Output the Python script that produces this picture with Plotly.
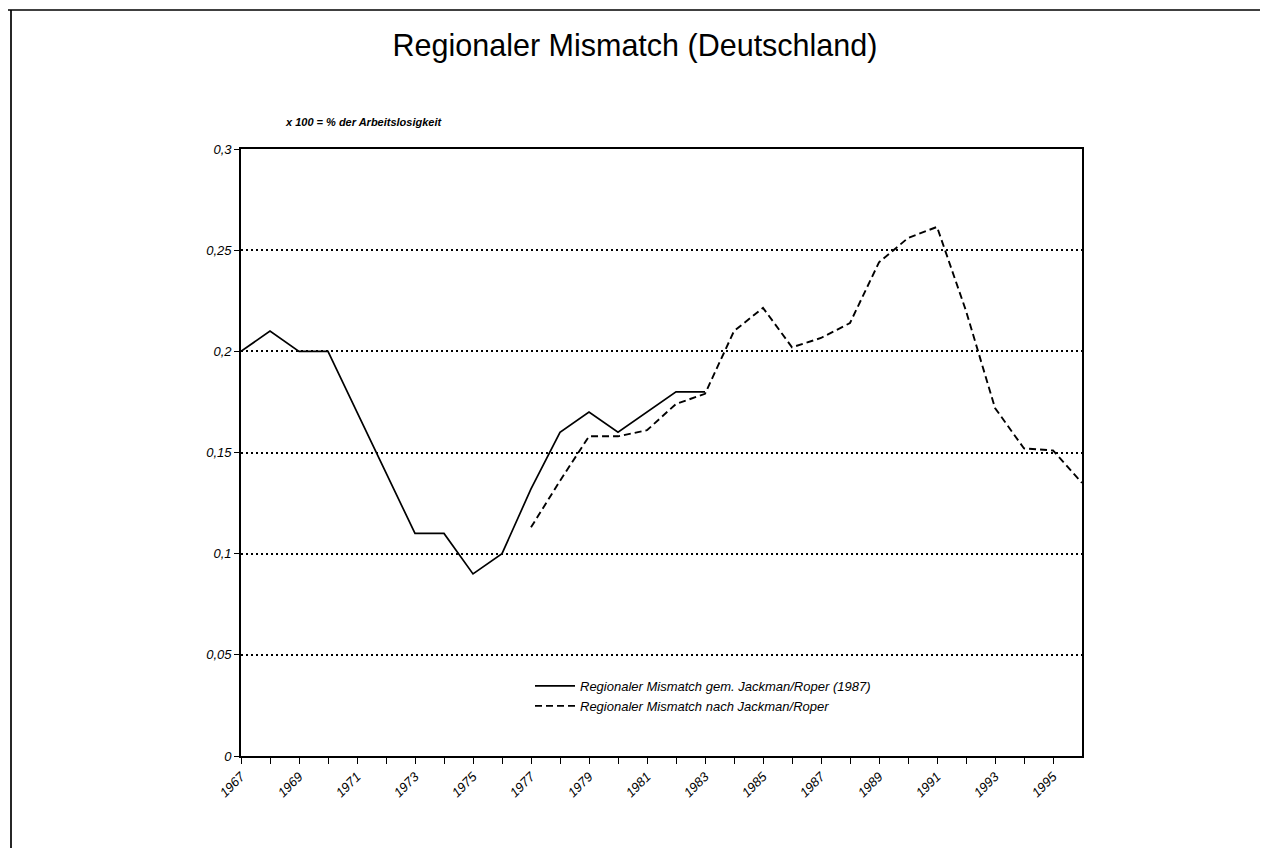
import plotly.graph_objects as go

# ---- data ----
years = list(range(1967, 1997))
solid_vals = [0.200, 0.210, 0.200, 0.200, 0.170, 0.140, 0.110, 0.110, 0.090, 0.100,
              0.132, 0.160, 0.170, 0.160, 0.170, 0.180, 0.180,
              None, None, None, None, None, None, None, None, None, None, None, None, None]
dashed_vals = [None, None, None, None, None, None, None, None, None, None,
               0.113, 0.136, 0.158, 0.158, 0.161, 0.174, 0.179, 0.210, 0.2215, 0.202,
               0.2066, 0.214, 0.244, 0.256, 0.2615, 0.220, 0.172, 0.152, 0.151, 0.135]
name_solid = "Regionaler Mismatch gem. Jackman/Roper (1987)"
name_dashed = "Regionaler Mismatch nach Jackman/Roper"
title_text = "Regionaler Mismatch (Deutschland)"
note_text = "x 100 = % der Arbeitslosigkeit"
y_tickvals = [0, 0.05, 0.1, 0.15, 0.2, 0.25, 0.3]
y_ticktext = ["0", "0,05", "0,1", "0,15", "0,2", "0,25", "0,3"]
x_tickvals = list(range(1967, 1996))
x_ticktext = [str(y) if (y - 1967) % 2 == 0 else "" for y in x_tickvals]

FONT = "Liberation Sans, Arial, sans-serif"
OFF = 8                      # page body margin
W, H = 1268 - OFF, 848 - OFF
# plot area in screen pixels: x 241..1082, y 149..756
PX0, PX1, PY0, PY1 = 241, 1082, 149, 756
L, R, T, B = PX0 - OFF, 1268 - PX1, PY0 - OFF, 848 - PY1
pw, ph = PX1 - PX0, PY1 - PY0


def px(xs):
    return (xs - PX0) / pw


def py(ys):
    return (PY1 - ys) / ph


fig = go.Figure()
fig.add_trace(go.Scatter(x=years, y=solid_vals, mode="lines", name=name_solid,
                         line=dict(color="black", width=1.7), connectgaps=False))
fig.add_trace(go.Scatter(x=years, y=dashed_vals, mode="lines", name=name_dashed,
                         line=dict(color="black", width=1.9, dash="7px,4px"), connectgaps=False))

axis_common = dict(showline=True, linecolor="black", linewidth=1.7, mirror=True, zeroline=False)

fig.update_layout(
    width=W, height=H,
    paper_bgcolor="white", plot_bgcolor="white",
    margin=dict(l=L, r=R, t=T, b=B, pad=0),
    font=dict(family=FONT, color="black"),
    title=dict(text=title_text, x=(635 - OFF) / W, xref="container", xanchor="center",
               y=1 - (45 - OFF) / H, yref="container", yanchor="middle",
               font=dict(size=30.5, family=FONT, color="black")),
    xaxis=dict(range=[1967, 1996], tickmode="array", tickvals=x_tickvals, ticktext=x_ticktext,
               tickangle=-45, ticks="outside", ticklen=6, tickwidth=1.4, tickcolor="black",
               showgrid=False,
               tickfont=dict(size=13, style="italic", family=FONT), **axis_common),
    yaxis=dict(range=[0, 0.3], tickmode="array", tickvals=y_tickvals, ticktext=y_ticktext,
               ticks="outside", ticklen=5, tickwidth=1.4, tickcolor="black",
               showgrid=True, gridcolor="black", gridwidth=1.8, griddash="2px,3px",
               tickfont=dict(size=13, style="italic", family=FONT), **axis_common),
    xaxis2=dict(range=[1967, 1996], overlaying="x", anchor="y", side="bottom",
                tickmode="array", tickvals=list(range(1967, 1997)), showticklabels=False,
                ticks="inside", ticklen=4, tickwidth=1.4, tickcolor="black",
                showgrid=False, showline=False, zeroline=False),
    yaxis2=dict(range=[0, 0.3], overlaying="y", anchor="x", side="left",
                tickmode="array", tickvals=y_tickvals, showticklabels=False,
                ticks="inside", ticklen=4, tickwidth=1.4, tickcolor="black",
                showgrid=False, showline=False, zeroline=False),
    legend=dict(x=px(530), y=py(671), xanchor="left", yanchor="top",
                bgcolor="rgba(0,0,0,0)", borderwidth=0,
                font=dict(size=13, style="italic", family=FONT), tracegroupgap=0,
                itemwidth=40),
    showlegend=True,
)

fig.add_annotation(text="<b>" + note_text + "</b>", xref="paper", yref="paper",
                   x=px(283), y=py(122), xanchor="left", yanchor="middle",
                   showarrow=False, font=dict(size=11, style="italic", family=FONT))

# outer frame: top and left borders
fig.add_shape(type="line", xref="paper", yref="paper",
              x0=px(8), x1=px(1268), y0=py(10), y1=py(10),
              line=dict(color="black", width=1.7))
fig.add_shape(type="line", xref="paper", yref="paper",
              x0=px(11), x1=px(11), y0=py(10), y1=py(848),
              line=dict(color="black", width=1.7))

fig.write_html("out.html")
